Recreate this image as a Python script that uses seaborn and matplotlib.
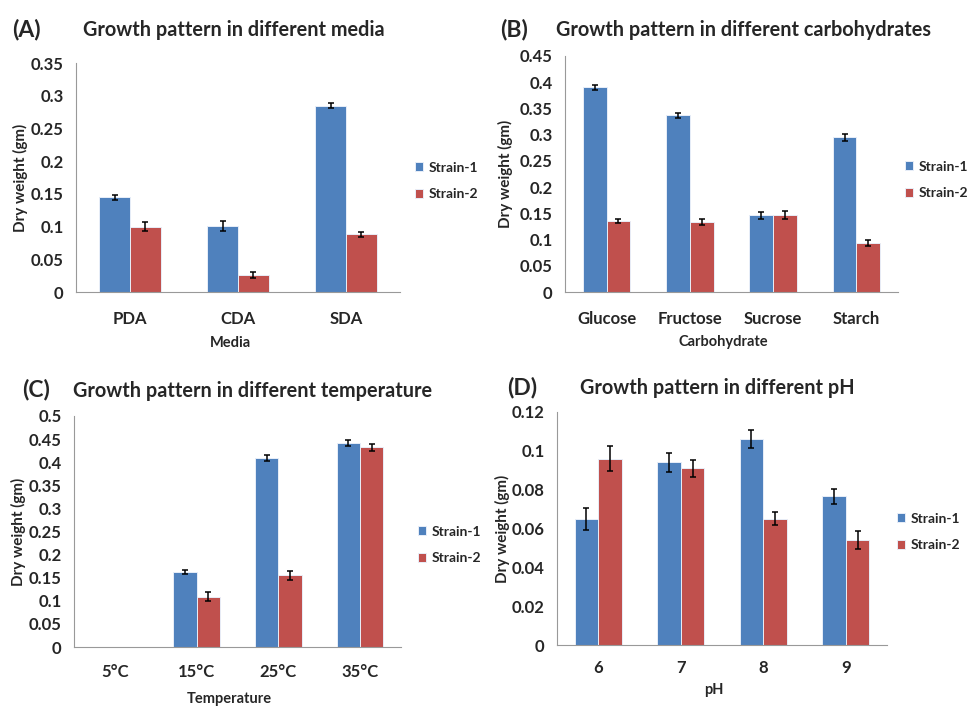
import numpy as np
import pandas as pd
import matplotlib
matplotlib.use('Agg')
import matplotlib.pyplot as plt
from matplotlib.ticker import FuncFormatter, MultipleLocator
import seaborn as sns

# panel A - media
media = ['PDA', 'CDA', 'SDA']
media_s1 = [0.145, 0.101, 0.285]
media_s2 = [0.100, 0.026, 0.088]
media_e1 = [0.004, 0.0075, 0.004]
media_e2 = [0.0075, 0.005, 0.004]

# panel B - carbohydrates
carbs = ['Glucose', 'Fructose', 'Sucrose', 'Starch']
carbs_s1 = [0.390, 0.337, 0.146, 0.295]
carbs_s2 = [0.135, 0.133, 0.147, 0.094]
carbs_e1 = [0.005, 0.0045, 0.007, 0.007]
carbs_e2 = [0.004, 0.006, 0.007, 0.006]

# panel C - temperature
temps = ['5°C', '15°C', '25°C', '35°C']
temps_s1 = [0.0, 0.162, 0.409, 0.442]
temps_s2 = [0.0, 0.109, 0.155, 0.432]
temps_e1 = [0.0, 0.005, 0.0065, 0.007]
temps_e2 = [0.0, 0.009, 0.009, 0.007]

# panel D - pH
ph = ['6', '7', '8', '9']
ph_s1 = [0.065, 0.094, 0.106, 0.0765]
ph_s2 = [0.096, 0.091, 0.065, 0.054]
ph_e1 = [0.0057, 0.005, 0.0047, 0.004]
ph_e2 = [0.0064, 0.0044, 0.0033, 0.0046]

strains = ['Strain-1', 'Strain-2']
colors = ['#4F81BD', '#C0504D']

sns.set_style('white')
plt.rcParams['font.family'] = ['Lato', 'DejaVu Sans']
plt.rcParams['font.weight'] = 'bold'

W, H = 970, 707
fig = plt.figure(figsize=(W / 100, H / 100), dpi=100)


def px_axes(left, top, right, bottom):
    return fig.add_axes([left / W, 1 - bottom / H, (right - left) / W, (bottom - top) / H])


def panel(box, cats, s1, s2, e1, e2, ymax, ystep, xlabel, letter, title,
          letter_xy, title_xy, ylab_x, xlab_y, leg_xy, xpad):
    ax = px_axes(*box)
    df = pd.DataFrame({
        'cat': cats * 2,
        'strain': [strains[0]] * len(cats) + [strains[1]] * len(cats),
        'val': list(s1) + list(s2),
    })
    sns.barplot(data=df, x='cat', y='val', hue='strain', hue_order=strains,
                palette=colors, order=cats, width=0.57, errorbar=None,
                edgecolor='#e8eef8', linewidth=0.7, saturation=1, ax=ax)
    for cont, errs in zip(ax.containers, [e1, e2]):
        for p, e in zip(cont.patches, errs):
            if e > 0:
                ax.errorbar(p.get_x() + p.get_width() / 2, p.get_height(), yerr=e,
                            fmt='none', ecolor='black', elinewidth=1.1,
                            capsize=2.5, capthick=1.1)
    ax.set_ylim(0, ymax)
    ax.set_xlim(-0.5, len(cats) - 0.5)
    ax.yaxis.set_major_locator(MultipleLocator(ystep))
    ax.yaxis.set_major_formatter(FuncFormatter(lambda v, _: '{:g}'.format(round(v, 4))))
    ax.set_xticks(np.arange(len(cats) + 1) - 0.5, minor=True)
    ax.tick_params(axis='x', which='major', length=0, pad=xpad, labelsize=12)
    ax.tick_params(axis='x', which='minor', length=5, color='#999999', width=0.8)
    ax.tick_params(axis='y', length=5, color='#999999', width=0.8, labelsize=12, pad=4)
    for lab in ax.get_xticklabels() + ax.get_yticklabels():
        lab.set_fontweight('bold')
    sns.despine(ax=ax)
    for s in ['left', 'bottom']:
        ax.spines[s].set_color('#999999')
        ax.spines[s].set_linewidth(0.8)
    ax.set_xlabel('')
    ax.set_ylabel('')
    left, top, right, bottom = box
    fig.text(ylab_x / W, 1 - ((top + bottom) / 2) / H, 'Dry weight (gm)', rotation=90,
             ha='center', va='center', fontsize=11, fontweight='bold')
    fig.text(((left + right) / 2 - 8) / W, 1 - xlab_y / H, xlabel, ha='center', va='center',
             fontsize=10.5, fontweight='bold')
    fig.text(letter_xy[0] / W, 1 - letter_xy[1] / H, letter, ha='left', va='center',
             fontsize=16.5, fontweight='bold')
    fig.text(title_xy[0] / W, 1 - title_xy[1] / H, title, ha='left', va='center',
             fontsize=14.3, fontweight='bold')
    ax.legend(loc='center left', bbox_to_anchor=(leg_xy[0] / W, 1 - leg_xy[1] / H),
              bbox_transform=fig.transFigure, frameon=False, handlelength=0.6,
              handleheight=0.6, handletextpad=0.35, labelspacing=1.05,
              borderpad=0, borderaxespad=0,
              prop={'weight': 'bold', 'size': 10})
    return ax


panel((76, 63, 400, 292), media, media_s1, media_s2, media_e1, media_e2, 0.35, 0.05,
      'Media', '(A)', 'Growth pattern in different media',
      (12, 30), (83, 30), 20, 343, (415, 181), 14)
panel((565, 56, 898, 292), carbs, carbs_s1, carbs_s2, carbs_e1, carbs_e2, 0.45, 0.05,
      'Carbohydrate', '(B)', 'Growth pattern in different carbohydrates',
      (500, 30), (556, 30), 505, 342, (905, 180), 14)
panel((74, 416, 401, 647), temps, temps_s1, temps_s2, temps_e1, temps_e2, 0.5, 0.05,
      'Temperature', '(C)', 'Growth pattern in different temperature',
      (22, 390), (73, 391), 18, 699, (418, 545), 12)
panel((557, 412, 887, 645), ph, ph_s1, ph_s2, ph_e1, ph_e2, 0.12, 0.02,
      'pH', '(D)', 'Growth pattern in different pH',
      (507, 388), (580, 388), 502, 690, (897, 532), 11)

fig.savefig('out.png', dpi=100)
